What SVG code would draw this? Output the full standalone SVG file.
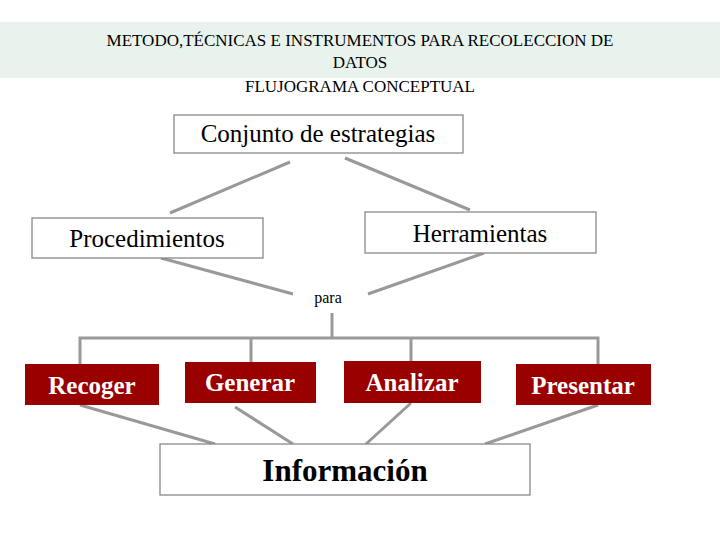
<svg xmlns="http://www.w3.org/2000/svg" width="720" height="540" viewBox="0 0 720 540">
<style>
.t{font-family:"Liberation Serif",serif;fill:#000}
.wb{fill:#fff;stroke:#888;stroke-width:1.3}
.rb{fill:#990000}
.rt{font-family:"Liberation Serif",serif;font-weight:bold;font-size:25px;fill:#fff;text-anchor:middle}
.c{stroke:#999;stroke-width:3;fill:none}
</style>
<rect width="720" height="540" fill="#fff"/>
<rect x="0" y="22" width="720" height="56" fill="#e8f3ee"/>
<g class="t" font-size="17" text-anchor="middle">
<text x="360" y="46">METODO,TÉCNICAS E INSTRUMENTOS PARA RECOLECCION DE</text>
<text x="360" y="68">DATOS</text>
<text x="360" y="92">FLUJOGRAMA CONCEPTUAL</text>
</g>
<g id="connectors" class="c">
<path d="M290,162 L170,213 M345,158 L470,210"/>
<path d="M161,258 L293,294 M484,253 L368,294"/>
<path d="M332,313 V338 M80,364 V338 H598 V364 M251,338 V362 M411,338 V361"/>
<path d="M80,405 L215,444 M235,407 L293,444 M411,403 L366,444 M598,405 L485,444"/>
</g>
<g id="conjunto"><rect class="wb" x="174" y="115" width="289" height="38"/><text class="t" x="318" y="142" font-size="25" text-anchor="middle">Conjunto de estrategias</text></g>
<g id="procedimientos"><rect class="wb" x="32" y="218" width="231" height="40"/><text class="t" x="147" y="247" font-size="25" text-anchor="middle">Procedimientos</text></g>
<g id="herramientas"><rect class="wb" x="365" y="212" width="231" height="41"/><text class="t" x="480" y="242" font-size="25" text-anchor="middle">Herramientas</text></g>
<g id="para"><text class="t" x="328" y="303" font-size="16" text-anchor="middle">para</text></g>
<g id="recoger"><rect class="rb" x="25" y="364" width="134" height="41"/><text class="rt" x="92" y="394">Recoger</text></g>
<g id="generar"><rect class="rb" x="185" y="362" width="131" height="41"/><text class="rt" x="250" y="391">Generar</text></g>
<g id="analizar"><rect class="rb" x="344" y="361" width="137" height="42"/><text class="rt" x="412" y="391">Analizar</text></g>
<g id="presentar"><rect class="rb" x="516" y="364" width="135" height="41"/><text class="rt" x="583" y="394">Presentar</text></g>
<g id="informacion"><rect class="wb" x="160" y="444" width="370" height="51"/><text class="t" x="345" y="481" font-size="31" font-weight="bold" text-anchor="middle">Información</text></g>
</svg>
